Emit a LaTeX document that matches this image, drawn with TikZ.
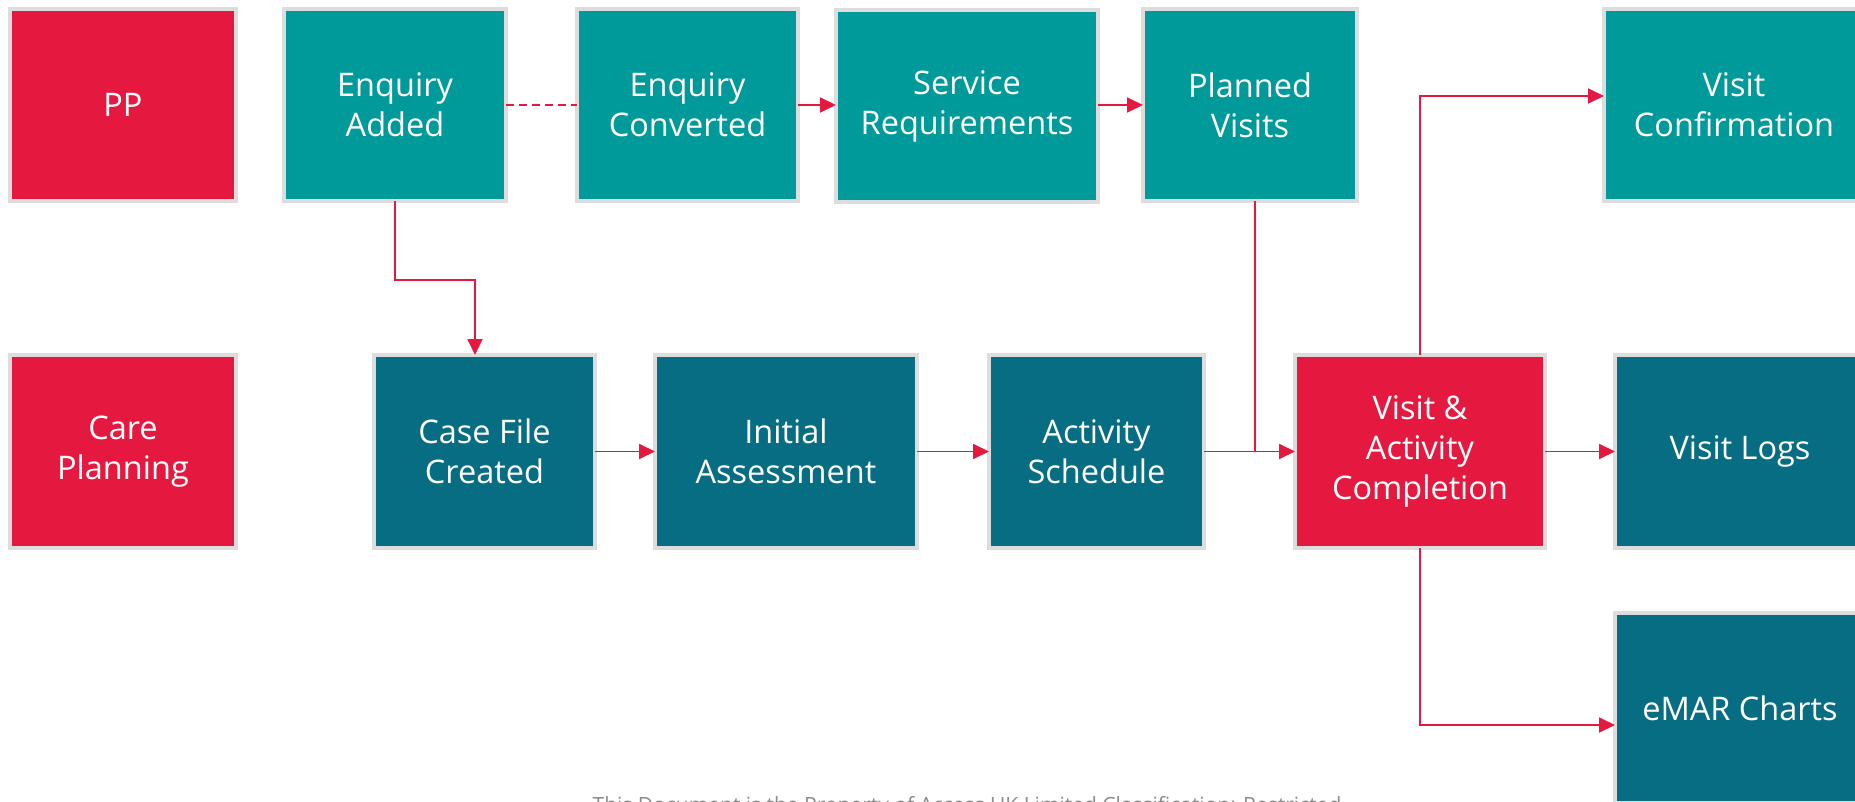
\documentclass[tikz,border=0pt]{standalone}
\usepackage{fontspec}
\setmainfont{Open Sans}
\usetikzlibrary{arrows.meta}
\definecolor{cred}{HTML}{E5193F}
\definecolor{cteal}{HTML}{009A9A}
\definecolor{cdark}{HTML}{066D82}
\definecolor{cborder}{HTML}{DDDDDD}
\definecolor{cfoot}{HTML}{8C8C8C}
\begin{document}
\begin{tikzpicture}[x=1pt,y=-1pt,
  box/.style={draw=cborder,line width=4pt,text=white,align=center,inner sep=0pt,outer sep=0pt,
    font=\fontsize{32.5}{40}\selectfont},
  redbox/.style={box,fill=cred},
  tealbox/.style={box,fill=cteal},
  darkbox/.style={box,fill=cdark},
  link/.style={draw=cred,line width=1.8pt},
  conn/.style={link,-{Triangle[length=16pt,width=15pt]}},
]
\useasboundingbox (0,0) rectangle (1855,802);

% row 1
\node[redbox,minimum width=226pt,minimum height=192pt] (PP) at (123,105) {PP};
\node[tealbox,minimum width=222pt,minimum height=192pt] (EA) at (395,105) {Enquiry\\Added};
\node[tealbox,minimum width=221pt,minimum height=192pt] (EC) at (687.5,105) {Enquiry\\Converted};
\node[tealbox,minimum width=262pt,minimum height=192pt] (SR) at (967,106) {Service\\Requirements};
\node[tealbox,minimum width=214pt,minimum height=192pt] (PV) at (1250,105) {Planned\\Visits};
\node[tealbox,minimum width=260pt,minimum height=192pt] (VC) at (1734,105) {Visit\\Confirmation};

% row 2
\node[redbox,minimum width=226pt,minimum height=193pt] (CP) at (123,451.5) {Care\\Planning};
\node[darkbox,minimum width=221pt,minimum height=193pt] (CF) at (484.5,451.5) {Case File\\Created};
\node[darkbox,minimum width=262pt,minimum height=193pt] (IA) at (786,451.5) {Initial\\Assessment};
\node[darkbox,minimum width=215pt,minimum height=193pt] (AS) at (1096.5,451.5) {Activity\\Schedule};
\node[redbox,minimum width=250pt,minimum height=193pt] (VA) at (1420,451.5) {Visit \&\\Activity\\Completion};
\node[darkbox,minimum width=250pt,minimum height=193pt] (VL) at (1740,451.5) {Visit Logs};
\node[darkbox,minimum width=250pt,minimum height=190pt] (EM) at (1740,708) {eMAR Charts};

% footer
\node[font=\fontsize{21}{24}\selectfont,text=cfoot,anchor=north,inner sep=0pt] (foot) at (967,796)
  {This Document is the Property of Access UK Limited Classification: Restricted};

% connectors
\draw[link,dash pattern=on 8pt off 5pt] (EA.east) -- (EC.west);
\draw[conn] (EC.east) -- (EC.east -| SR.west);
\draw[conn] (SR.east |- PV.west) -- (PV.west);

\coordinate (bend1) at (475,280);
\draw[conn] (EA.south) |- (bend1) -- ([xshift=-9.5pt]CF.north);

\draw[conn] (CF) -- (IA);
\draw[conn] (IA) -- (AS);
\draw[conn] (AS) -- (VA);
\coordinate (join) at (1255,451.5);
\draw[link] ([xshift=5pt]PV.south) -- (join);

\draw[conn] (VA.north) |- ([yshift=9pt]VC.west);
\draw[conn] (VA) -- (VL);
\draw[conn] (VA.south) |- ([yshift=-17pt]EM.west);
\end{tikzpicture}
\end{document}
